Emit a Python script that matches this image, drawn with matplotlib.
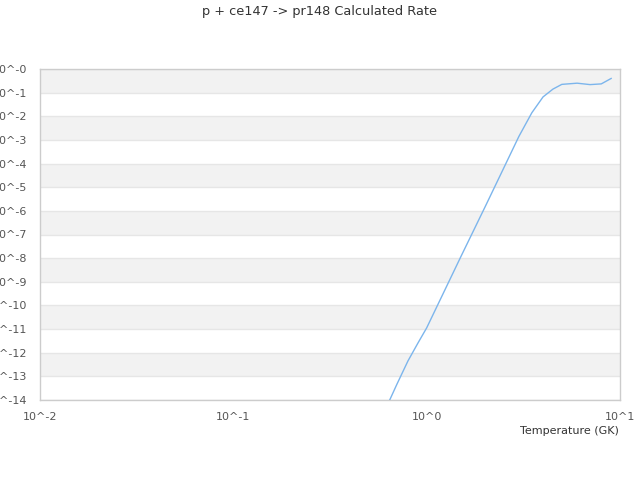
import matplotlib
matplotlib.use("Agg")
import matplotlib.pyplot as plt
import numpy as np

title = "p + ce147 -> pr148 Calculated Rate"
x_label = "Temperature (GK)"

temperature = [0.6, 0.7, 0.8, 0.9, 1.0, 1.5, 2.0, 2.5, 3.0, 3.5, 4.0, 4.5, 5.0, 6.0, 7.0, 8.0, 9.0]
log_rate = [-14.55, -13.35, -12.35, -11.6, -10.95, -7.95, -5.85, -4.2, -2.85, -1.85, -1.18,
            -0.85, -0.65, -0.60, -0.66, -0.63, -0.40]
rate = [10 ** v for v in log_rate]

y_exps = list(range(0, 15))
y_tick_labels = [f"10^-{k}" for k in y_exps]
x_exps = [-2, -1, 0, 1]
x_tick_labels = ["10^-2", "10^-1", "10^0", "10^1"]

fig = plt.figure(figsize=(6.4, 4.8), dpi=100)
ax = fig.add_axes([40/640, 80/480, 580/640, 331/480])

ax.set_xscale("log")
ax.set_yscale("log")
ax.set_xlim(1e-2, 1e1)
ax.set_ylim(1e-14, 1e0)

# alternating bands
for i, k in enumerate(y_exps[:-1]):
    if i % 2 == 0:
        ax.axhspan(10.0 ** (-k - 1), 10.0 ** (-k), color="#f2f2f2", zorder=0, lw=0)
for k in y_exps:
    ax.axhline(10.0 ** (-k), color="#e6e6e6", lw=1, zorder=1)

ax.plot(temperature, rate, color="#7cb5ec", lw=1, zorder=3, clip_on=True)

ax.set_yticks([10.0 ** (-k) for k in y_exps])
ax.set_yticklabels(y_tick_labels)
ax.set_xticks([10.0 ** e for e in x_exps])
ax.set_xticklabels(x_tick_labels)
ax.minorticks_off()
ax.tick_params(axis="both", length=0, labelsize=8, colors="#555555")
ax.tick_params(axis="y", pad=9)
ax.tick_params(axis="x", pad=9)

for s in ax.spines.values():
    s.set_color("#cccccc")
    s.set_linewidth(1)

fig.text(0.5, 1 - 12/480, title, ha="center", va="center", fontsize=9.25, color="#333333")
fig.text(619/640, 1 - 431/480, x_label, ha="right", va="center", fontsize=8, color="#333333")

fig.savefig("out.png", dpi=100)
